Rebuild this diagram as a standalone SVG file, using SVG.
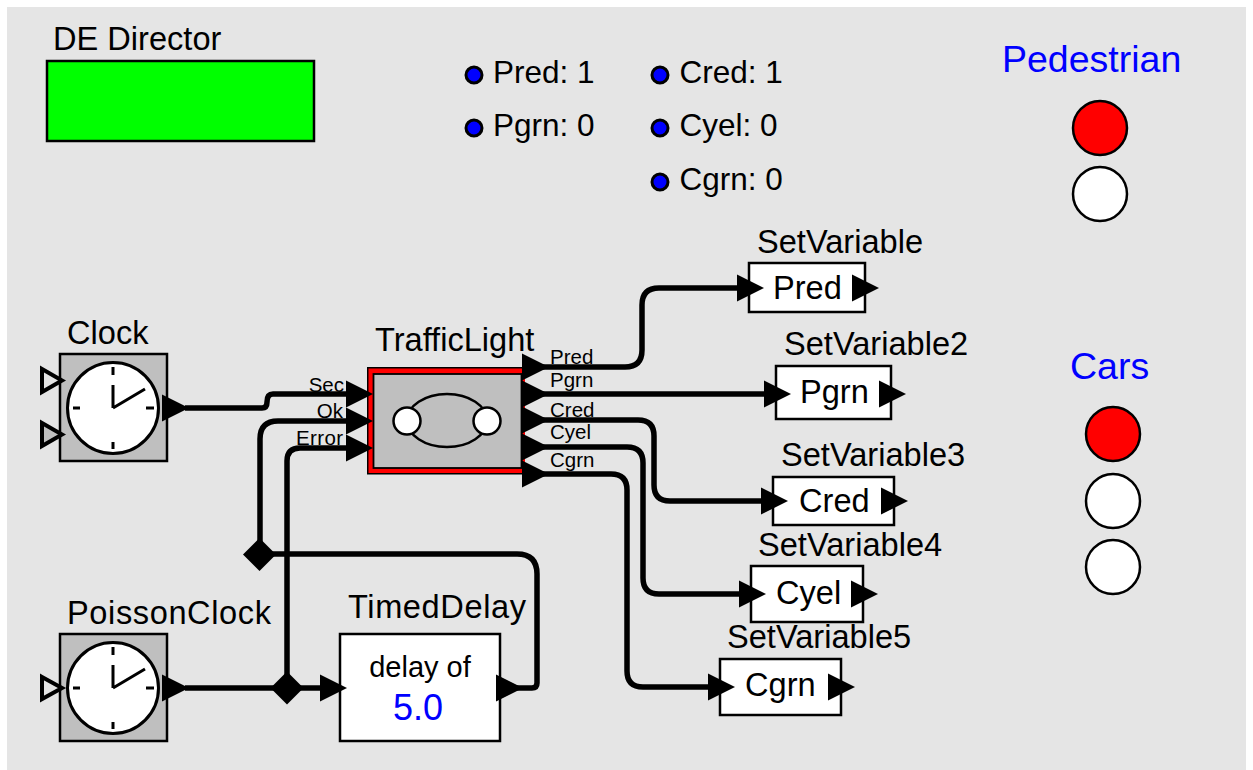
<svg xmlns="http://www.w3.org/2000/svg" width="1253" height="770" viewBox="0 0 1253 770">
<style>
text{font-family:"Liberation Sans",Arial,sans-serif;fill:#000}
.lb{font-size:32.600px}
.par{font-size:31.500px}
.pl{font-size:20.500px}
.big{font-size:37.500px;fill:#00f}
.w{fill:none;stroke:#000;stroke-width:5.500;stroke-linejoin:round}
.box{fill:#fff;stroke:#000;stroke-width:2.500}
.gbox{fill:#bfbfbf;stroke:#000;stroke-width:2.500}
.face{fill:#fff;stroke:#000;stroke-width:3}
.tick{fill:none;stroke:#000;stroke-width:3}
.dot{fill:#00f;stroke:#000;stroke-width:3}
.lamp{stroke:#000;stroke-width:2.500}
</style>
<defs>
<polygon id="port" points="0,-13.500 27,0 0,13.500" fill="#000"/>
<polygon id="dia" points="-16.500,0 0,-16.500 16.500,0 0,16.500" fill="#000"/>
<g id="clockface">
<circle class="face" r="45.500"/>
<path class="tick" d="M0,-41V-33M0,34V41M-40,0H-33M33,0H41M0,0V-23M0,0L32,-19"/>
</g>
</defs>
<rect x="7" y="7" width="1239" height="763" fill="#e5e5e5"/>
<g id="connectors">
<path class="w" d="M185,408H262Q267,408 267,402Q267,394 273,394H350"/>
<path class="w" d="M350,421H278Q260,421 260,439V555"/>
<path class="w" d="M350,448H300Q287,448 287,461V688"/>
<path class="w" d="M185,688H322"/>
<path class="w" d="M517,688H532Q537,688 537,683V574Q537,554 517,554H272"/>
<path class="w" d="M543,367H625Q642,367 642,350V305Q642,288 659,288H740"/>
<path class="w" d="M543,394H767"/>
<path class="w" d="M543,420H638Q654,420 654,436V485Q654,501 670,501H764"/>
<path class="w" d="M543,447H627Q643,447 643,463V578Q643,594 659,594H742"/>
<path class="w" d="M543,474H611Q627,474 627,490V671Q627,687 643,687H711"/>
</g>
<g id="director">
<rect x="47" y="61" width="267" height="80" fill="#0f0" stroke="#000" stroke-width="2.500"/>
<text class="lb" x="53" y="50">DE Director</text>
</g>
<g id="param-pred"><circle class="dot" cx="474" cy="75" r="8"/><text class="par" x="493" y="83">Pred: 1</text></g>
<g id="param-pgrn"><circle class="dot" cx="474" cy="128" r="8"/><text class="par" x="493" y="136">Pgrn: 0</text></g>
<g id="param-cred"><circle class="dot" cx="660" cy="75" r="8"/><text class="par" x="679.500" y="83">Cred: 1</text></g>
<g id="param-cyel"><circle class="dot" cx="660" cy="128" r="8"/><text class="par" x="679.500" y="136">Cyel: 0</text></g>
<g id="param-cgrn"><circle class="dot" cx="660" cy="182" r="8"/><text class="par" x="679.500" y="190">Cgrn: 0</text></g>
<g id="pedestrian">
<text class="big" x="1002" y="72">Pedestrian</text>
<circle class="lamp" cx="1100" cy="128" r="27" fill="#f00"/>
<circle class="lamp" cx="1100" cy="194" r="27" fill="#fff"/>
</g>
<g id="cars">
<text class="big" x="1070" y="379">Cars</text>
<circle class="lamp" cx="1113" cy="434" r="27" fill="#f00"/>
<circle class="lamp" cx="1113" cy="501" r="27" fill="#fff"/>
<circle class="lamp" cx="1113" cy="567" r="27" fill="#fff"/>
</g>
<g id="clock">
<text class="lb" x="67" y="344">Clock</text>
<rect class="gbox" x="60" y="354" width="107" height="107"/>
<use href="#clockface" x="113" y="408"/>
<polygon points="42,369 62,380.500 42,392" fill="#e5e5e5" stroke="#000" stroke-width="4"/>
<polygon points="42,423 62,434.500 42,446" fill="#bfbfbf" stroke="#000" stroke-width="4"/>
<use href="#port" x="162" y="408"/>
</g>
<g id="poissonclock">
<text class="lb" x="67" y="623.500" textLength="204">PoissonClock</text>
<rect class="gbox" x="60" y="634" width="107" height="107"/>
<use href="#clockface" x="113" y="688"/>
<polygon points="42,677 62,688 42,699" fill="#e5e5e5" stroke="#000" stroke-width="4"/>
<use href="#port" x="162" y="688"/>
</g>
<g id="trafficlight">
<text class="lb" x="375" y="350.500">TrafficLight</text>
<rect x="367" y="367" width="158" height="107.500" fill="#000"/>
<rect x="368.500" y="368.500" width="156.500" height="104.500" fill="#f00"/>
<rect x="373.500" y="374" width="148" height="94" fill="#bfbfbf" stroke="#000" stroke-width="1.800"/>
<ellipse cx="447" cy="420.500" rx="40" ry="26.500" fill="none" stroke="#000" stroke-width="2.500"/>
<circle cx="407" cy="421" r="13.500" fill="#fff" stroke="#000" stroke-width="2.500"/>
<circle cx="487" cy="421" r="13.500" fill="#fff" stroke="#000" stroke-width="2.500"/>
<use href="#port" x="346" y="394"/>
<use href="#port" x="346" y="421"/>
<use href="#port" x="346" y="448"/>
<use href="#port" x="522" y="367"/>
<use href="#port" x="522" y="394"/>
<use href="#port" x="522" y="420"/>
<use href="#port" x="522" y="447"/>
<use href="#port" x="522" y="474"/>
<text class="pl" x="344" y="392" text-anchor="end">Sec</text>
<text class="pl" x="343" y="418" text-anchor="end">Ok</text>
<text class="pl" x="343" y="445" text-anchor="end" textLength="47">Error</text>
<text class="pl" x="550" y="364">Pred</text>
<text class="pl" x="550" y="387">Pgrn</text>
<text class="pl" x="550" y="417">Cred</text>
<text class="pl" x="550" y="439">Cyel</text>
<text class="pl" x="550" y="467">Cgrn</text>
</g>
<g id="relation1"><use href="#dia" x="259.500" y="554.500"/></g>
<g id="relation2"><use href="#dia" x="287" y="688"/></g>
<g id="timeddelay">
<text class="lb" x="348" y="617.500" textLength="178">TimedDelay</text>
<rect class="box" x="340" y="634" width="160" height="107"/>
<text x="420" y="677" font-size="29" text-anchor="middle">delay of</text>
<text x="418" y="720" font-size="36" style="fill:#00f" text-anchor="middle">5.0</text>
<use href="#port" x="320" y="688"/>
<use href="#port" x="496" y="688"/>
</g>
<g id="setvariable">
<text class="lb" x="757" y="253">SetVariable</text>
<rect class="box" x="749" y="263" width="116" height="49"/>
<text class="lb" x="773" y="299">Pred</text>
<use href="#port" x="737" y="288"/><use href="#port" x="852" y="288"/>
</g>
<g id="setvariable2">
<text class="lb" x="784" y="355">SetVariable2</text>
<rect class="box" x="776" y="366" width="115" height="53"/>
<text class="lb" x="800" y="403">Pgrn</text>
<use href="#port" x="764" y="394"/><use href="#port" x="879" y="394"/>
</g>
<g id="setvariable3">
<text class="lb" x="781" y="466">SetVariable3</text>
<rect class="box" x="773" y="477" width="121" height="48"/>
<text class="lb" x="799" y="512">Cred</text>
<use href="#port" x="761" y="501"/><use href="#port" x="881" y="501"/>
</g>
<g id="setvariable4">
<text class="lb" x="758" y="556">SetVariable4</text>
<rect class="box" x="751" y="566" width="112" height="56"/>
<text class="lb" x="776" y="604">Cyel</text>
<use href="#port" x="739" y="594"/><use href="#port" x="851" y="594"/>
</g>
<g id="setvariable5">
<text class="lb" x="727" y="648">SetVariable5</text>
<rect class="box" x="720" y="659" width="121" height="56"/>
<text class="lb" x="745" y="696">Cgrn</text>
<use href="#port" x="708" y="687"/><use href="#port" x="828" y="687"/>
</g>
</svg>
